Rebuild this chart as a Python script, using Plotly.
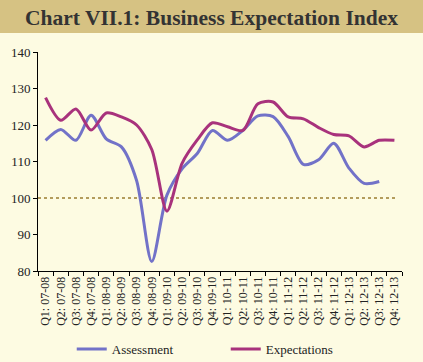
import plotly.graph_objects as go

categories = ["Q1: 07-08", "Q2: 07-08", "Q3: 07-08", "Q4: 07-08",
              "Q1: 08-09", "Q2: 08-09", "Q3: 08-09", "Q4: 08-09",
              "Q1: 09-10", "Q2: 09-10", "Q3: 09-10", "Q4: 09-10",
              "Q1: 10-11", "Q2: 10-11", "Q3: 10-11", "Q4: 10-11",
              "Q1: 11-12", "Q2: 11-12", "Q3: 11-12", "Q4: 11-12",
              "Q1: 12-13", "Q2: 12-13", "Q3: 12-13", "Q4: 12-13"]

assessment = [115.8, 118.8, 115.8, 122.7, 116.2, 114.0, 104.8, 82.6,
              100.8, 108.0, 112.2, 118.5, 115.8, 118.5, 122.5, 122.3,
              116.8, 109.2, 110.5, 115.0, 108.2, 104.0, 104.5]

expectations = [127.5, 121.3, 124.4, 118.6, 123.3, 122.2, 120.0, 113.3,
                96.4, 109.5, 115.9, 120.6, 119.5, 118.5, 125.8, 126.3,
                122.2, 121.7, 119.3, 117.4, 117.0, 114.0, 115.8, 115.8]

reference_level = 100

fig = go.Figure()
fig.add_trace(go.Scatter(
    x=categories[:len(assessment)], y=assessment, name="Assessment",
    mode="lines", line=dict(color="#7272c8", width=3, shape="spline", smoothing=0.8)))
fig.add_trace(go.Scatter(
    x=categories, y=expectations, name="Expectations",
    mode="lines", line=dict(color="#a8327c", width=3, shape="spline", smoothing=0.8)))

fig.add_shape(type="line", xref="paper", yref="y", x0=0, x1=0.985,
              y0=reference_level, y1=reference_level,
              line=dict(color="#b39c5c", width=2, dash="dot"), layer="below")

# title band
fig.add_shape(type="rect", xref="paper", yref="paper",
              x0=-38/364, x1=1 + 21/364, y0=1 + 19/219, y1=1 + 52/219,
              fillcolor="#d6c283", line=dict(width=0), layer="below")

fig.update_layout(
    width=423, height=362,
    margin=dict(l=38, r=21, t=52, b=91, autoexpand=False),
    paper_bgcolor="#fdfbe2", plot_bgcolor="#fdfbe2",
    font=dict(family="Liberation Serif", size=12, color="#222"),
    title=dict(text="<b>Chart VII.1: Business Expectation Index</b>",
               x=0.5, xanchor="center", y=1 - 17/362, yanchor="middle",
               font=dict(family="Liberation Serif", size=21.5, color="#333")),
    showlegend=True,
    legend=dict(orientation="h", x=0.0927, xanchor="left", y=-0.356, yanchor="middle",
                bgcolor="rgba(0,0,0,0)", font=dict(size=13, color="#222"),
                entrywidth=109, entrywidthmode="pixels"),
    xaxis=dict(type="category", range=[-0.5, len(categories) - 0.5],
               showline=True, linecolor="black", linewidth=1,
               ticks="outside", tickson="boundaries", ticklen=4, tickcolor="black",
               tickangle=-90, showgrid=False, zeroline=False, automargin=False,
               tickfont=dict(size=12)),
    yaxis=dict(range=[80, 140], dtick=10, showline=True, linecolor="black",
               linewidth=1, ticks="outside", ticklen=4, tickcolor="black",
               showgrid=False, zeroline=False, automargin=False,
               tickfont=dict(size=13)),
)

fig.write_html("out.html", config={"displayModeBar": False},
               post_script="document.body.style.margin='0px';document.body.style.overflow='hidden';")
